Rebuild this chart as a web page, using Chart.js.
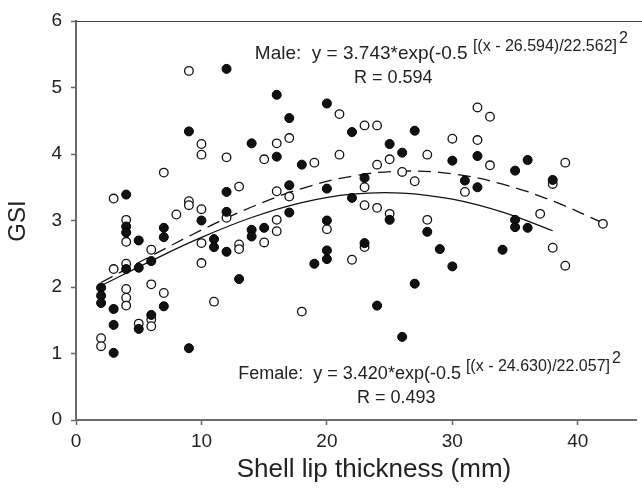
<!DOCTYPE html>
<html lang="en">
<head>
    <meta charset="UTF-8">
    <title>GSI vs shell lip thickness</title>
    <style>
        body { margin: 0; background: #fff; }
        #wrap { width: 642px; height: 491px; }
    </style>
</head>
<body>
<div id="wrap"><canvas id="gsiChart" width="642" height="491"></canvas></div>

<script src="https://cdn.jsdelivr.net/npm/chart.js"></script>
<script>
    // Female (filled circles)
    const femaleThickness = [2, 2, 2, 3, 3, 3, 4, 4, 4, 4, 5, 5, 5, 6, 6, 7, 7, 7, 9, 9, 10, 11, 11,
        12, 12, 12, 12, 13, 14, 14, 14, 15, 16, 16, 17, 17, 17, 18, 19, 20, 20, 20, 20, 20,
        22, 22, 23, 23, 24, 25, 25, 26, 26, 27, 27, 28, 29, 30, 30, 31, 32, 32, 34, 35, 35, 35, 36, 36, 38];
    const femaleGSI = [1.99, 1.87, 1.76, 1.67, 1.43, 1.01, 3.39, 2.91, 2.82, 2.27, 2.70, 2.29, 1.37, 2.39, 1.58,
        2.89, 2.75, 1.71, 4.34, 1.08, 3.00, 2.72, 2.60,
        5.28, 3.43, 3.13, 2.53, 2.12, 4.16, 2.86, 2.76, 2.89, 4.89, 3.96, 4.54, 3.53, 3.12, 3.84, 2.35,
        4.76, 3.48, 3.00, 2.55, 2.42,
        4.33, 3.34, 3.64, 2.66, 1.72, 4.15, 3.01, 4.02, 1.25, 4.35, 2.05, 2.83, 2.57, 3.90, 2.31, 3.60,
        3.97, 3.50, 2.56, 3.75, 3.01, 2.90, 3.91, 2.89, 3.61];

    // Male (open circles)
    const maleThickness = [2, 2, 3, 3, 4, 4, 4, 4, 4, 4, 5, 6, 6, 6, 6, 7, 7, 8, 9, 9, 9, 10, 10, 10, 10, 10,
        11, 12, 12, 13, 13, 13, 15, 15, 16, 16, 16, 16, 17, 17, 18, 19, 20, 21, 21, 22,
        23, 23, 23, 23, 24, 24, 24, 25, 25, 26, 27, 28, 28, 30, 31, 32, 32, 33, 33, 37, 38, 38, 39, 39, 42];
    const maleGSI = [1.23, 1.11, 3.33, 2.27, 3.01, 2.68, 2.35, 1.97, 1.84, 1.72, 1.45, 2.56, 2.04, 1.51, 1.41,
        3.72, 1.91, 3.09, 5.25, 3.29, 3.23, 4.15, 3.99, 3.17, 2.66, 2.36,
        1.78, 3.95, 3.04, 3.51, 2.64, 2.57, 3.92, 2.67, 4.16, 3.44, 3.01, 2.84, 4.24, 3.36, 1.63, 3.87, 2.87,
        4.60, 3.99, 2.41, 4.43, 3.50, 3.23, 2.60, 4.43, 3.84, 3.19, 3.92, 3.10, 3.73, 3.59, 3.99, 3.01,
        4.23, 3.43, 4.70, 4.21, 4.56, 3.83, 3.10, 3.55, 2.59, 3.87, 2.32, 2.95];

    // Fitted curves, values taken from the printed equations
    const femaleFitX = [2, 6, 10, 14, 18, 22, 26, 30, 34, 38];
    const femaleFitY = [2.020, 2.394, 2.745, 3.045, 3.269, 3.396, 3.413, 3.320, 3.125, 2.846];
    const maleFitX = [2, 6, 10, 14, 18, 22, 26, 30, 34, 38, 42];
    const maleFitY = [2.067, 2.468, 2.856, 3.203, 3.481, 3.666, 3.742, 3.701, 3.547, 3.294, 2.965];

    const xTicks = [0, 10, 20, 30, 40];
    const yTicks = [0, 1, 2, 3, 4, 5, 6];

    const toPoints = (xs, ys) => xs.map((x, i) => ({ x: x, y: ys[i] }));
    const FONT = '"Liberation Sans", Arial, sans-serif';

    // Text labels, axis titles and the top frame line
    const annotations = {
        id: 'annotations',
        afterDraw(chart) {
            const ctx = chart.ctx;
            const area = chart.chartArea;
            ctx.save();

            ctx.strokeStyle = '#444';
            ctx.lineWidth = 1;
            ctx.beginPath();
            ctx.moveTo(area.left, area.top + 0.5);
            ctx.lineTo(chart.width, area.top + 0.5);
            ctx.stroke();

            ctx.fillStyle = '#222';
            ctx.textBaseline = 'alphabetic';
            ctx.textAlign = 'left';

            // draws "head [bracket]^2" so that the bracket ends at endX
            function equation(endX, y, head, bracket, headSize) {
                ctx.font = '16px ' + FONT;
                const bw = ctx.measureText(bracket).width;
                const bx = endX - bw;
                ctx.fillText(bracket, bx, y - 8);
                ctx.fillText('2', endX + 2, y - 16);
                ctx.font = headSize + 'px ' + FONT;
                ctx.fillText(head, bx - ctx.measureText(head).width, y);
            }
            equation(617, 59, 'Male:  y = 3.743*exp(-0.5 ', '[(x - 26.594)/22.562]', 19);
            ctx.font = '18px ' + FONT;
            ctx.fillText('R = 0.594', 354, 83);

            equation(610, 379, 'Female:  y = 3.420*exp(-0.5 ', '[(x - 24.630)/22.057]', 18);
            ctx.font = '18px ' + FONT;
            ctx.fillText('R = 0.493', 357, 403);

            // axis titles
            ctx.textAlign = 'center';
            ctx.textBaseline = 'middle';
            ctx.font = '26px ' + FONT;
            ctx.fillText('Shell lip thickness (mm)', 374, 470);
            ctx.font = '24px ' + FONT;
            ctx.translate(18, 221);
            ctx.rotate(-Math.PI / 2);
            ctx.fillText('GSI', 0, 0);
            ctx.restore();
        }
    };

    const tickFont = { family: FONT, size: 19 };

    new Chart(document.getElementById('gsiChart'), {
        type: 'scatter',
        data: {
            datasets: [
                {
                    label: 'Female',
                    data: toPoints(femaleThickness, femaleGSI),
                    pointRadius: 4.5,
                    backgroundColor: '#111',
                    borderColor: '#000',
                    borderWidth: 1,
                    order: 1
                },
                {
                    label: 'Male',
                    data: toPoints(maleThickness, maleGSI),
                    pointRadius: 4.3,
                    backgroundColor: '#fff',
                    borderColor: '#111',
                    borderWidth: 1.3,
                    order: 2
                },
                {
                    label: 'Female fit',
                    data: toPoints(femaleFitX, femaleFitY),
                    showLine: true,
                    tension: 0.4,
                    pointRadius: 0,
                    borderColor: '#111',
                    borderWidth: 1.3,
                    order: 3
                },
                {
                    label: 'Male fit',
                    data: toPoints(maleFitX, maleFitY),
                    showLine: true,
                    tension: 0.4,
                    pointRadius: 0,
                    borderColor: '#111',
                    borderWidth: 1.3,
                    borderDash: [13, 7],
                    order: 4
                }
            ]
        },
        options: {
            responsive: false,
            animation: false,
            layout: { padding: { top: 21, right: 0, left: 0, bottom: 0 } },
            plugins: { legend: { display: false }, tooltip: { enabled: false } },
            scales: {
                x: {
                    type: 'linear',
                    min: 0,
                    max: 44.67,
                    afterBuildTicks: (scale) => { scale.ticks = xTicks.map(v => ({ value: v })); },
                    afterFit: (scale) => { scale.height = 71; },
                    ticks: { font: tickFont, color: '#222', padding: 5 },
                    grid: { drawOnChartArea: false, drawTicks: true, tickLength: 5, color: '#666', tickWidth: 1.5 },
                    border: { color: '#6a6a6a', width: 2 }
                },
                y: {
                    min: 0,
                    max: 6,
                    afterBuildTicks: (scale) => { scale.ticks = yTicks.map(v => ({ value: v })); },
                    afterFit: (scale) => { scale.width = 76; },
                    ticks: { font: tickFont, color: '#222', padding: 9 },
                    grid: { drawOnChartArea: false, drawTicks: true, tickLength: 5, color: '#666', tickWidth: 1.5 },
                    border: { color: '#6a6a6a', width: 2 }
                }
            }
        },
        plugins: [annotations]
    });
</script>
</body>
</html>
